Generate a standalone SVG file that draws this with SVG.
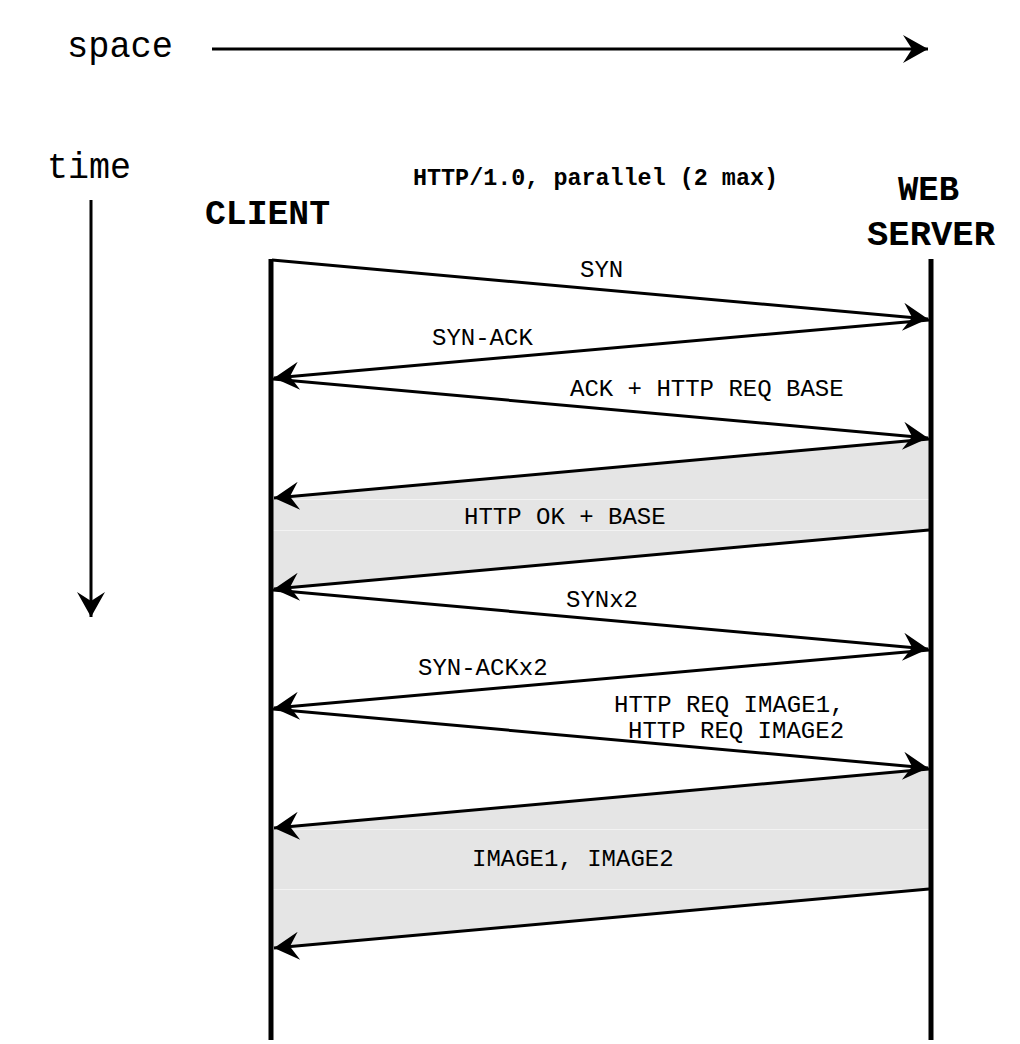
<svg xmlns="http://www.w3.org/2000/svg" width="1020" height="1044" viewBox="0 0 1020 1044">
<style>
.lbl{font-family:"Liberation Mono","Courier New",monospace;font-size:24px;fill:#000}
.axis{font-family:"Liberation Mono","Courier New",monospace;font-size:36px;fill:#000}
.bold{font-family:"Liberation Mono","Courier New",monospace;font-weight:bold;fill:#000}
.msg{stroke:#000;stroke-width:3;fill:none;marker-end:url(#ah)}
.life{stroke:#000;stroke-width:5}
.shade{fill:#e5e5e5;stroke:none}
</style>
<defs>
<marker id="ah" viewBox="-26 -14 27 28" refX="0" refY="0" markerWidth="27" markerHeight="28" markerUnits="userSpaceOnUse" orient="auto">
<path d="M0,0 L-25,-14 L-16,0 L-25,14 Z" fill="#000"/>
</marker>
</defs>
<rect width="1020" height="1044" fill="#fff"/>

<g id="axes">
<text class="axis" x="67" y="57" textLength="106" lengthAdjust="spacingAndGlyphs">space</text>
<line x1="212" y1="49" x2="928" y2="49" class="msg"/>
<text class="axis" x="47" y="178" textLength="84" lengthAdjust="spacingAndGlyphs">time</text>
<line x1="91" y1="200" x2="91" y2="617" class="msg"/>
</g>

<g id="title">
<text class="bold" x="413" y="185" font-size="23" textLength="365" lengthAdjust="spacingAndGlyphs">HTTP/1.0, parallel (2 max)</text>
</g>

<g id="shading">
<polygon class="shade" points="931,439 271,499 271,590 931,530"/>
<line x1="271" y1="499.5" x2="931" y2="499.5" stroke="#f3f3f3" stroke-width="1"/>
<line x1="271" y1="530.5" x2="931" y2="530.5" stroke="#f3f3f3" stroke-width="1"/>
<polygon class="shade" points="931,769 271,829 271,949 931,889"/>
<line x1="271" y1="829.5" x2="931" y2="829.5" stroke="#f3f3f3" stroke-width="1"/>
<line x1="271" y1="889.5" x2="931" y2="889.5" stroke="#f3f3f3" stroke-width="1"/>
</g>

<g id="client">
<text class="bold" x="205" y="224" font-size="35" textLength="125" lengthAdjust="spacingAndGlyphs">CLIENT</text>
<line class="life" x1="271" y1="259" x2="271" y2="1040"/>
</g>

<g id="server">
<text class="bold" x="898" y="200" font-size="35" textLength="61" lengthAdjust="spacingAndGlyphs">WEB</text>
<text class="bold" x="867" y="245" font-size="35" textLength="128" lengthAdjust="spacingAndGlyphs">SERVER</text>
<line class="life" x1="931" y1="259" x2="931" y2="1040"/>
</g>

<g id="connectors">
<line class="msg" x1="272" y1="260" x2="928" y2="319"/>
<line class="msg" x1="929" y1="320" x2="274" y2="378"/>
<line class="msg" x1="273" y1="379" x2="928" y2="438"/>
<line class="msg" x1="929" y1="439" x2="274" y2="498"/>
<line class="msg" x1="929" y1="530" x2="274" y2="589"/>
<line class="msg" x1="273" y1="590" x2="928" y2="649"/>
<line class="msg" x1="929" y1="650" x2="274" y2="708"/>
<line class="msg" x1="273" y1="709" x2="928" y2="768"/>
<line class="msg" x1="929" y1="769" x2="274" y2="828"/>
<line class="msg" x1="929" y1="889" x2="274" y2="948"/>
</g>

<g id="labels">
<text class="lbl" x="580" y="277">SYN</text>
<text class="lbl" x="432" y="345">SYN-ACK</text>
<text class="lbl" x="570" y="396">ACK + HTTP REQ BASE</text>
<text class="lbl" x="464" y="524">HTTP OK + BASE</text>
<text class="lbl" x="566" y="607">SYNx2</text>
<text class="lbl" x="418" y="675">SYN-ACKx2</text>
<text class="lbl" x="614" y="712">HTTP REQ IMAGE1,</text>
<text class="lbl" x="628" y="738">HTTP REQ IMAGE2</text>
<text class="lbl" x="472" y="866">IMAGE1, IMAGE2</text>
</g>
</svg>
